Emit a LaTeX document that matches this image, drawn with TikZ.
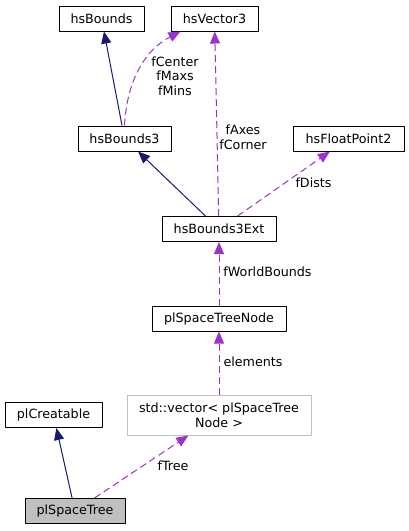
\documentclass[tikz,border=0pt]{standalone}
\usepackage{fontspec}
\setmainfont{DejaVu Sans}
\usepackage{xcolor}
\usetikzlibrary{arrows.meta}
\definecolor{midnight}{HTML}{191970}
\definecolor{orchid}{HTML}{9A32CD}

\begin{document}
\begin{tikzpicture}[x=1pt, y=-1pt, >={Triangle[length=12pt,width=10pt]}, line join=round,
  cls/.style={draw=black, line width=1pt, fill=white, inner sep=0pt, minimum height=25pt,
    font=\fontsize{12.7}{15}\selectfont, align=center},
  inh/.style={->, draw=midnight, line width=1pt},
  mem/.style={->, draw=orchid, line width=1pt, dash pattern=on 7pt off 4pt},
  lbl/.style={font=\fontsize{12.7}{14.5}\selectfont, align=center}]

\useasboundingbox (0,0) rectangle (409,531);

% Classi
\node[cls, minimum width=85pt]  (hsb)  at (101.5,18.5) {hsBounds};
\node[cls, minimum width=87pt]  (hsv)  at (214.5,18.5) {hsVector3};
\node[cls, minimum width=93pt]  (hsb3) at (124.5,138.5) {hsBounds3};
\node[cls, minimum width=111pt] (hsfp) at (348.5,138.5) {hsFloatPoint2};
\node[cls, minimum width=114pt] (hsbe) at (219,229) {hsBounds3Ext};
\node[cls, minimum width=134pt] (stn)  at (219,318.5) {plSpaceTreeNode};
\node[cls, draw=black!25, minimum width=184pt, minimum height=40pt] (vec) at (219,415)
  {std::vector< plSpaceTree\\Node >};
\node[cls, minimum width=97pt]  (cre)  at (53.5,415) {plCreatable};
\node[cls, fill=black!25, minimum width=100pt] (st) at (75,511) {plSpaceTree};

% Ereditarieta
\draw[inh] (hsb3) -- (hsb);
\draw[inh] (hsbe) -- (hsb3);
\draw[inh] (st) -- (cre);

% Membri
\draw[mem] (hsb3.north) .. controls (127,80) and (145,50) .. ([xshift=10pt]hsv.south west);
\node[lbl] (l1) at (175,76) {fCenter\\fMaxs\\fMins};

\draw[mem] (hsbe) -- (hsv);
\node[lbl] (l2) at (243,137.5) {fAxes\\fCorner};

\draw[mem] (hsbe) -- (hsfp);
\node[lbl] (l3) at (313.5,183) {fDists};

\draw[mem] (stn) -- (hsbe);
\node[lbl] (l4) at (267.5,272) {fWorldBounds};

\draw[mem] (vec) -- (stn);
\node[lbl] (l5) at (253,362) {elements};

\draw[mem] (st) -- (vec);
\node[lbl] (l6) at (173,466) {fTree};

\end{tikzpicture}
\end{document}
